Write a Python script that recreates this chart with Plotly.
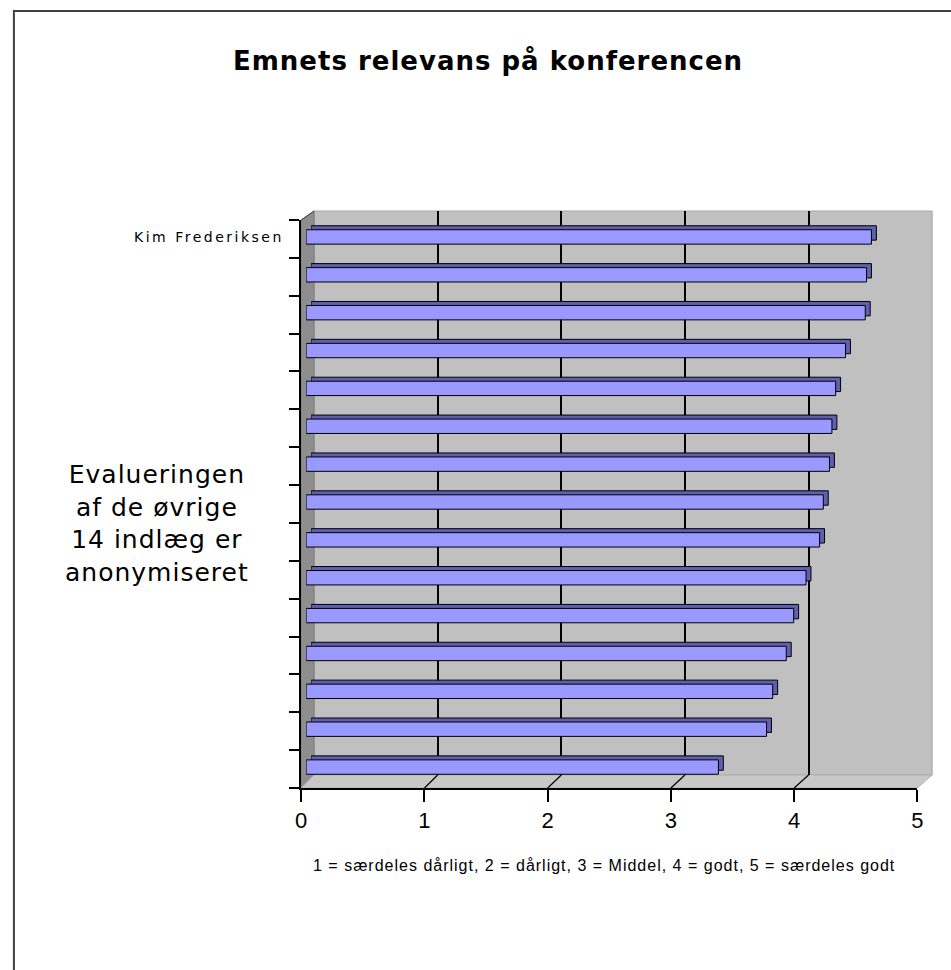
import plotly.graph_objects as go

# ---------------- data ----------------
presenters = ["Kim Frederiksen", "Indlæg 2", "Indlæg 3", "Indlæg 4", "Indlæg 5",
              "Indlæg 6", "Indlæg 7", "Indlæg 8", "Indlæg 9", "Indlæg 10",
              "Indlæg 11", "Indlæg 12", "Indlæg 13", "Indlæg 14", "Indlæg 15"]
scores = [4.58, 4.54, 4.53, 4.37, 4.29, 4.26, 4.24, 4.19, 4.16, 4.05,
          3.95, 3.89, 3.78, 3.73, 3.34]
x_ticks = [0, 1, 2, 3, 4, 5]
x_ticktext = ["0", "1", "2", "3", "4", "5"]
grid_vals = [1, 2, 3, 4]

title_text = "Emnets relevans på konferencen"
side_lines = ["Evalueringen", "af de øvrige", "14 indlæg er", "anonymiseret"]
caption_text = "1 = særdeles dårligt, 2 = dårligt, 3 = Middel, 4 = godt, 5 = særdeles godt"

# ---------------- geometry (pixels) ----------------
W, H = 951, 970
def fx(p):
    return p / W
def fy(p):
    return 1 - p / H

BACK = dict(l=312, t=211, r=938, b=775)      # back wall
FRONT = dict(l=299, t=220, r=923, b=788)     # front frame (axes)
BARS = dict(l=304, t=218, r=929, b=786)      # bar front plane
DEPTH = (5, -4)                               # bar extrusion

def spaced(s, px):
    return f'<span style="letter-spacing:{px}px">{s}</span>'

fig = go.Figure()

# subplot 1: back wall grid
fig.add_trace(go.Scatter(x=[], y=[], xaxis="x", yaxis="y", showlegend=False))
# subplot 2: bar extrusion (top/side faces)
fig.add_trace(go.Bar(x=scores, y=presenters, orientation="h", xaxis="x2", yaxis="y2",
                     marker=dict(color="#5F5FAF", line=dict(color="#000000", width=1)),
                     showlegend=False, hoverinfo="skip"))
# subplot 3: bar front faces
fig.add_trace(go.Bar(x=scores, y=presenters, orientation="h", xaxis="x3", yaxis="y3",
                     marker=dict(color="#9999FF", line=dict(color="#000000", width=1)),
                     showlegend=False))
# subplot 4: front axes
fig.add_trace(go.Scatter(x=[], y=[], xaxis="x4", yaxis="y4", showlegend=False))

hidden = dict(visible=False)

layout = dict(
    width=W, height=H, margin=dict(l=0, r=0, t=0, b=0),
    paper_bgcolor="white", plot_bgcolor="rgba(0,0,0,0)",
    bargap=0.62, showlegend=False,
    xaxis=dict(domain=[fx(BACK["l"]), fx(BACK["r"])], range=[0, 5], anchor="y",
               showgrid=True, gridcolor="#000000", gridwidth=1.5, tickvals=grid_vals,
               showticklabels=False, ticks="", zeroline=False, showline=False),
    yaxis=dict(domain=[fy(BACK["b"]), fy(BACK["t"])], range=[0, 1], anchor="x",
               showgrid=False, showticklabels=False, zeroline=False, ticks=""),
    xaxis2=dict(domain=[fx(BARS["l"] + DEPTH[0]), fx(BARS["r"] + DEPTH[0])], range=[0, 5],
                anchor="y2", **hidden),
    yaxis2=dict(domain=[fy(BARS["b"] + DEPTH[1]), fy(BARS["t"] + DEPTH[1])], anchor="x2",
                autorange="reversed", categoryorder="array", categoryarray=presenters, **hidden),
    xaxis3=dict(domain=[fx(BARS["l"]), fx(BARS["r"])], range=[0, 5], anchor="y3", **hidden),
    yaxis3=dict(domain=[fy(BARS["b"]), fy(BARS["t"])], anchor="x3",
                autorange="reversed", categoryorder="array", categoryarray=presenters, **hidden),
    xaxis4=dict(domain=[fx(FRONT["l"]), fx(FRONT["r"])], range=[0, 5], anchor="y4",
                tickvals=x_ticks, ticktext=x_ticktext, ticks="outside", ticklen=12,
                tickwidth=1.5, tickcolor="#000000", showline=True, linecolor="#000000",
                linewidth=1.5, showgrid=False, zeroline=False,
                tickfont=dict(family="Liberation Sans", size=22, color="#000000")),
    yaxis4=dict(domain=[fy(FRONT["b"]), fy(FRONT["t"])], range=[0, len(presenters)], anchor="x4",
                tickvals=list(range(len(presenters) + 1)), ticks="outside", ticklen=10,
                tickwidth=1.5, tickcolor="#000000", showline=True, linecolor="#000000",
                linewidth=1.5, showgrid=False, zeroline=False, showticklabels=False),
)
fig.update_layout(**layout)

# ---------------- 3D walls (decoration) ----------------
def poly(pts):
    return "M " + " L ".join(f"{fx(x)},{fy(y)}" for x, y in pts) + " Z"

shapes = []
shapes.append(dict(type="rect", xref="paper", yref="paper", layer="below",
                   x0=fx(BACK["l"]), x1=fx(BACK["r"]), y0=fy(BACK["b"]), y1=fy(BACK["t"]),
                   fillcolor="#C0C0C0", line=dict(color="#A8A8A8", width=1)))
shapes.append(dict(type="path", xref="paper", yref="paper", layer="below",
                   path=poly([(FRONT["l"], FRONT["t"]), (BACK["l"], BACK["t"]),
                              (BACK["l"], BACK["b"]), (FRONT["l"], FRONT["b"])]),
                   fillcolor="#8E8E8E", line=dict(color="#7A7A7A", width=1)))
shapes.append(dict(type="path", xref="paper", yref="paper", layer="below",
                   path=poly([(FRONT["l"], FRONT["b"]), (BACK["l"], BACK["b"]),
                              (BACK["r"], BACK["b"]), (FRONT["r"], FRONT["b"])]),
                   fillcolor="#C8C8C8", line=dict(color="#B0B0B0", width=1)))
for v in grid_vals:
    xf = FRONT["l"] + v * (FRONT["r"] - FRONT["l"]) / 5
    xb = BACK["l"] + v * (BACK["r"] - BACK["l"]) / 5
    shapes.append(dict(type="line", xref="paper", yref="paper", layer="above",
                       x0=fx(xf), y0=fy(FRONT["b"]), x1=fx(xb), y1=fy(BACK["b"]),
                       line=dict(color="#000000", width=1.2)))
shapes.append(dict(type="line", xref="paper", yref="paper", layer="above",
                   x0=fx(FRONT["l"]), y0=fy(FRONT["t"]), x1=fx(BACK["l"]), y1=fy(BACK["t"]),
                   line=dict(color="#404040", width=1)))
# outer chart frame
shapes.append(dict(type="rect", xref="paper", yref="paper", layer="below",
                   x0=fx(8), x1=1.2, y0=-0.2, y1=fy(11),
                   line=dict(color="#404040", width=2), fillcolor="rgba(0,0,0,0)"))
fig.update_layout(shapes=shapes)

# ---------------- texts ----------------
annotations = [
    dict(text="<b>" + spaced(title_text, 1) + "</b>", xref="paper", yref="paper",
         x=fx(488), y=fy(60), xanchor="center", yanchor="middle", showarrow=False,
         font=dict(family="DejaVu Sans", size=26, color="#000000")),
    dict(text="<br>".join(spaced(s, 1) for s in side_lines), xref="paper", yref="paper",
         x=fx(153), y=fy(523),
         xanchor="center", yanchor="middle", showarrow=False, align="center",
         font=dict(family="DejaVu Sans", size=25, color="#000000")),
    dict(text=spaced(presenters[0], 2.5), xref="paper", yref="y3", x=fx(284), y=presenters[0],
         xanchor="right", yanchor="middle", showarrow=False,
         font=dict(family="DejaVu Sans", size=14, color="#000000")),
    dict(text=spaced(caption_text, 1), xref="paper", yref="paper", x=fx(606), y=fy(865),
         xanchor="center", yanchor="middle", showarrow=False,
         font=dict(family="Liberation Sans", size=16, color="#000000")),
]
fig.update_layout(annotations=annotations)

fig.write_html("out.html", config={"displayModeBar": False},
               post_script="document.body.style.margin='0';document.body.style.overflow='hidden';")
